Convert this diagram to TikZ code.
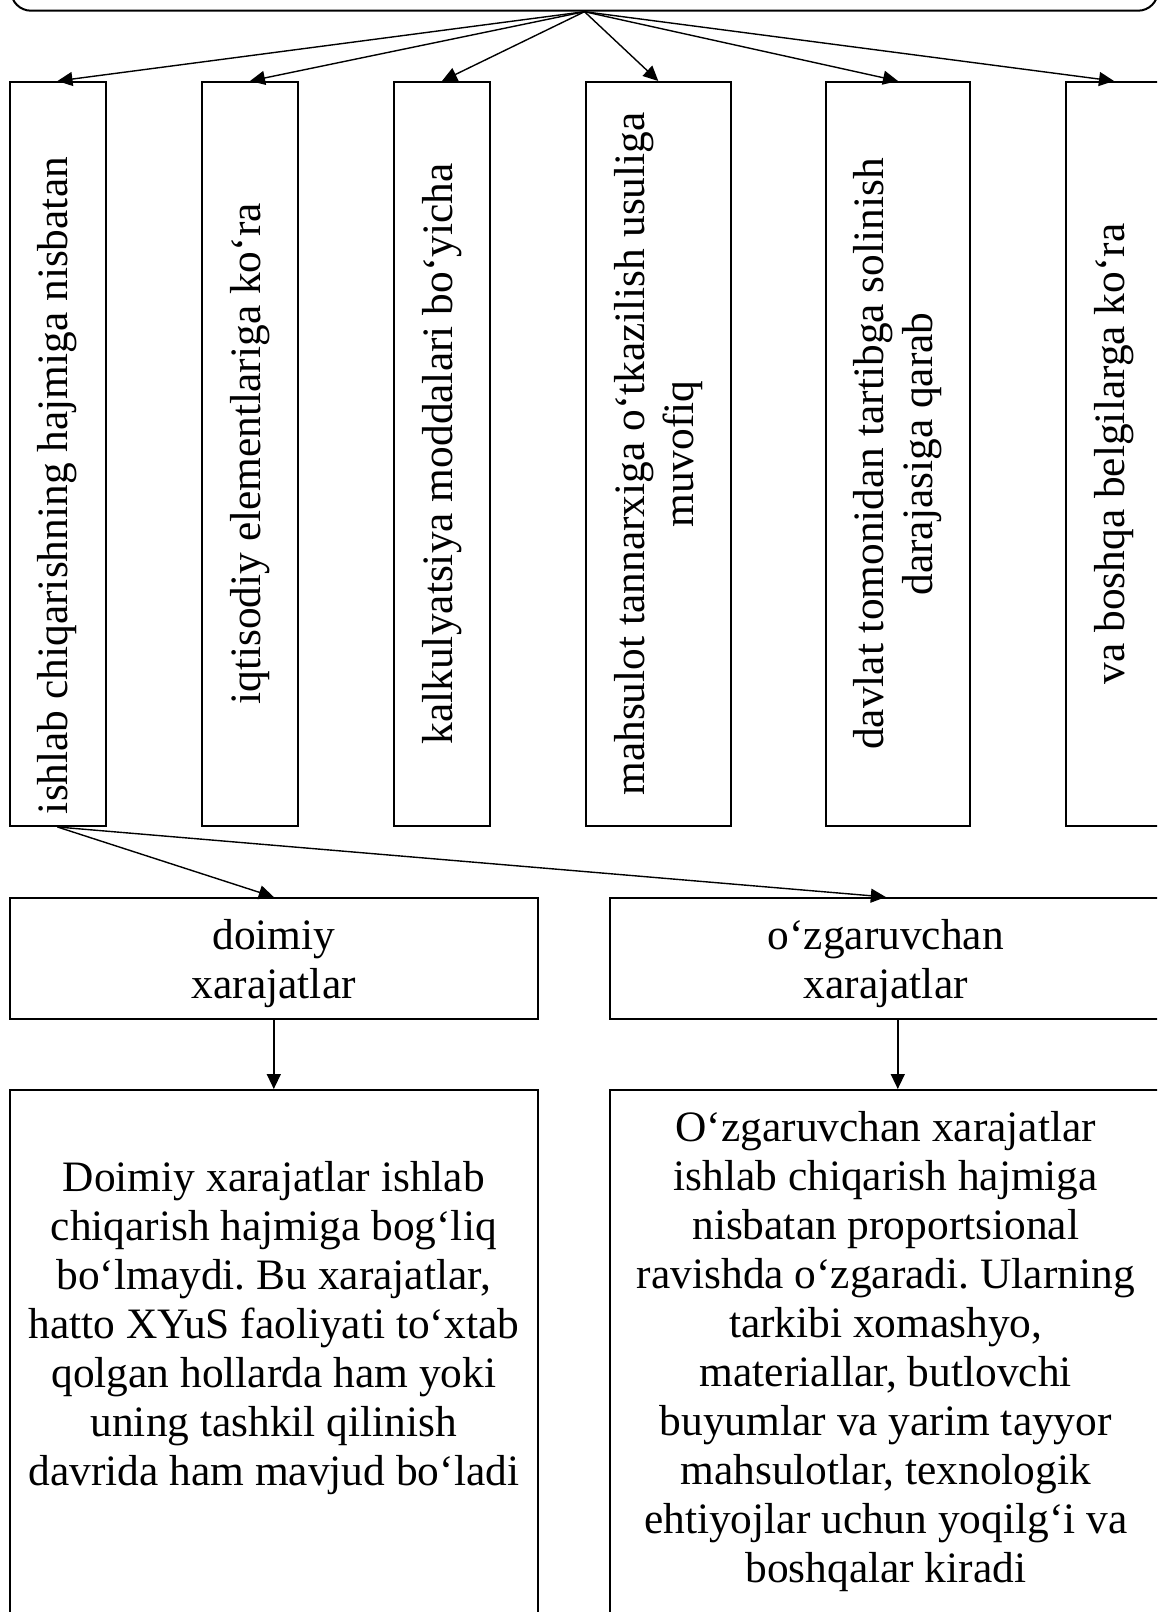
\documentclass[tikz,border=0pt]{standalone}
\usepackage{fontspec}
\setmainfont{Liberation Serif}
\usetikzlibrary{arrows.meta}
\frenchspacing
\newcommand\boxfont{\fontsize{21.7}{24.45}\selectfont}
\tikzset{
  box/.style={draw, line width=1pt, inner sep=0pt, align=center, font=\boxfont},
  vbox/.style={box, rotate=90, minimum width=372pt, minimum height=48pt},
  wbox/.style={vbox, minimum height=72.3pt},
  cbox/.style={box, minimum height=60.5pt, text depth=0pt},
  bigbox/.style={draw, line width=1pt, minimum height=275pt},
  bigtext/.style={inner sep=0pt, align=center, font=\boxfont, anchor=north},
  arr/.style={-{Triangle[length=7.5pt,width=7pt]}, line width=0.7pt}
}

\begin{document}
\begin{tikzpicture}[x=0.5pt, y=-0.5pt]
  \useasboundingbox (0,0) rectangle (1157,1612);
  \clip (0,0) rectangle (1157,1612);
  \fill[white] (0,0) rectangle (1157,1612);

  % 顶部
  \node[draw, line width=1pt, rounded corners=10pt, minimum width=573.5pt, minimum height=45.7pt] (top) at (584.5,-35) {};

  % 竖框
  \node[vbox, text width=360pt, align=flush left] (b1) at (57.5,454) {ishlab chiqarishning hajmiga nisbatan};
  \node[vbox] (b2) at (250,454) {iqtisodiy elementlariga ko‘ra};
  \node[vbox] (b3) at (442,454) {kalkulyatsiya moddalari bo‘yicha};
  \node[wbox] (b4) at (658.3,454) {mahsulot tannarxiga o‘tkazilish usuliga\\muvofiq};
  \node[wbox] (b5) at (898,454) {davlat tomonidan tartibga solinish\\darajasiga qarab};
  \node[vbox] (b6) at (1114,454) {va boshqa belgilarga ko‘ra};

  % 中间
  \node[cbox, minimum width=264.2pt] (doimiy) at (273.8,958.5) {doimiy\\xarajatlar};
  \node[cbox, minimum width=276.2pt] (ozg) at (885.8,958.5) {o‘zgaruvchan\\xarajatlar};

  % 底部
  \node[bigbox, minimum width=264.2pt] (dbig) at (273.8,1365) {};
  \node[bigbox, minimum width=276.2pt] (obig) at (885.8,1365) {};
  \node[bigtext] (dtxt) at (273.8,1161.4) {Doimiy xarajatlar ishlab\\chiqarish hajmiga bog‘liq\\bo‘lmaydi. Bu xarajatlar,\\hatto XYuS faoliyati to‘xtab\\qolgan hollarda ham yoki\\uning tashkil qilinish\\davrida ham mavjud bo‘ladi};
  \node[bigtext] (otxt) at (885.8,1111.4) {O‘zgaruvchan xarajatlar\\ishlab chiqarish hajmiga\\nisbatan proportsional\\ravishda o‘zgaradi. Ularning\\tarkibi xomashyo,\\materiallar, butlovchi\\buyumlar va yarim tayyor\\mahsulotlar, texnologik\\ehtiyojlar uchun yoqilg‘i va\\boshqalar kiradi};

  % 箭头
  \foreach \i in {1,...,6}
    \draw[arr] (top.south) -- (b\i.east);
  \draw[arr] (b1.west) -- (doimiy.north);
  \draw[arr] (b1.west) -- (ozg.north);
  \draw[arr] (doimiy) -- (dbig);
  \draw[arr] ([xshift=6pt]ozg.south) -- ([xshift=6pt]obig.north);
\end{tikzpicture}
\end{document}
